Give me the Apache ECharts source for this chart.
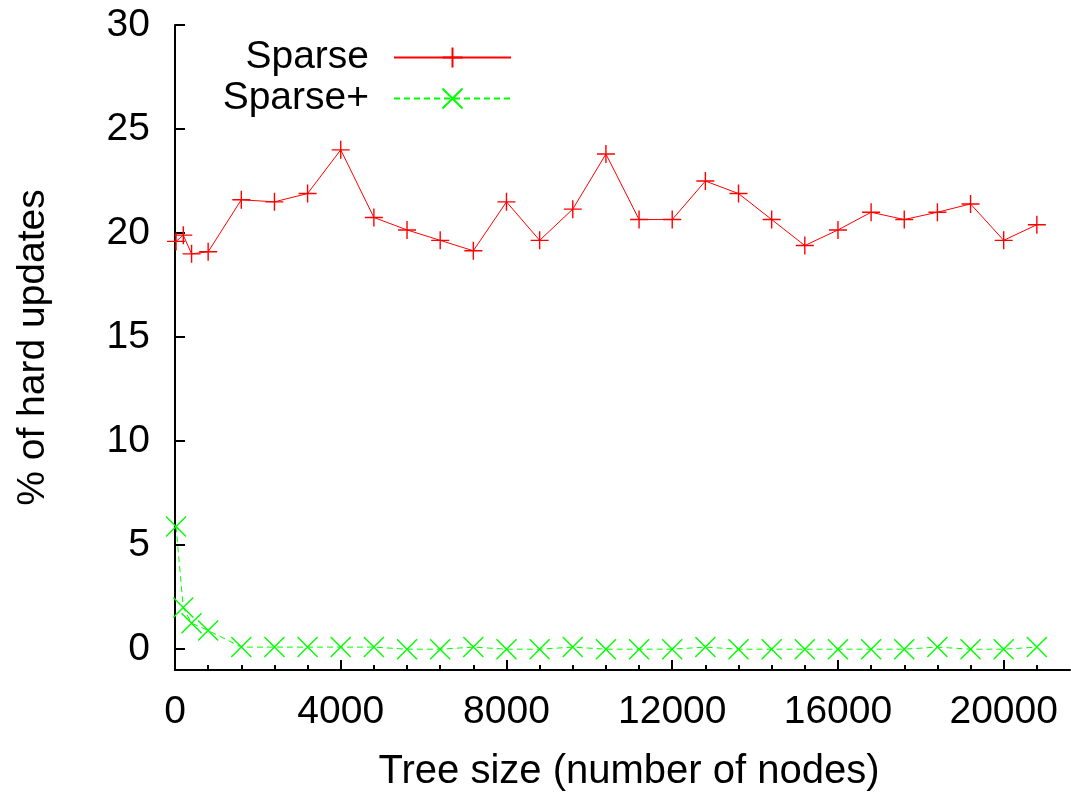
<!DOCTYPE html>
<html>
<head>
<meta charset="utf-8">
<title>Hard updates vs tree size</title>
<script src="https://cdn.jsdelivr.net/npm/echarts@6/dist/echarts.min.js"></script>
<style>
  html, body { margin: 0; padding: 0; background: #fff; }
  #chart { width: 1071px; height: 792px; }
</style>
</head>
<body>
<div id="chart"></div>
<script>
// tree sizes (number of nodes)
var nodes = [25, 200, 400, 800, 1600, 2400, 3200, 4000, 4800, 5600, 6400, 7200, 8000, 8800,
  9600, 10400, 11200, 12000, 12800, 13600, 14400, 15200, 16000, 16800, 17600, 18400, 19200, 20000, 20800];
// % of hard updates
var sparse = [19.6, 19.9, 19.0, 19.1, 21.6, 21.5, 21.9, 24.0, 20.75, 20.15, 19.65, 19.15, 21.5, 19.65,
  21.15, 23.8, 20.65, 20.65, 22.5, 21.9, 20.65, 19.4, 20.15, 21.0, 20.65, 21.0, 21.4, 19.65, 20.4];
var sparsePlus = [5.9, 2.0, 1.25, 0.9, 0.1, 0.1, 0.1, 0.1, 0.1, 0, 0, 0.1, 0, 0,
  0.1, 0, 0, 0, 0.1, 0, 0, 0, 0, 0, 0, 0.1, 0, 0, 0.1];

var yTicks = [0, 5, 10, 15, 20, 25, 30];
var xTicks = [0, 4000, 8000, 12000, 16000, 20000];
var xMinorTicks = [];
for (var t = 800; t <= 20800; t += 800) xMinorTicks.push(t);

var FONT = "'Liberation Sans', Arial, Helvetica, sans-serif";
var PLUS = 'path://M0,10L20,10M10,0L10,20';
var CROSS = 'path://M0,0L20,20M20,0L0,20';

function pairs(xs, ys) {
  return xs.map(function (x, i) { return [x, ys[i]]; });
}
function plain(v) { return String(v); }

var chart = echarts.init(document.getElementById('chart'));
chart.setOption({
  animation: false,
  backgroundColor: '#fff',
  textStyle: { fontFamily: FONT },
  grid: { left: 175, right: 1, top: 25, bottom: 122, containLabel: false, outerBoundsMode: 'none' },
  legend: {
    orient: 'vertical',
    align: 'right',
    right: 554,
    top: 33,
    itemWidth: 117,
    itemHeight: 25,
    itemGap: 2,
    textStyle: { fontFamily: FONT, fontSize: 39, color: '#000', padding: [0, 20, 0, 0] },
    data: ['Sparse', 'Sparse+']
  },
  xAxis: [{
    type: 'value',
    min: 0,
    max: 21600,
    name: 'Tree size (number of nodes)',
    nameLocation: 'middle',
    nameGap: 82,
    nameTextStyle: { fontFamily: FONT, fontSize: 40, color: '#000', padding: [0, 0, 0, 13] },
    splitLine: { show: false },
    axisLine: { onZero: false, lineStyle: { color: '#000', width: 2 } },
    axisTick: { inside: true, length: 10, customValues: xTicks, lineStyle: { color: '#000', width: 2 } },
    axisLabel: { customValues: xTicks, formatter: plain, margin: 23, fontFamily: FONT, fontSize: 39, color: '#000' }
  }, {
    type: 'value',
    min: 0,
    max: 21600,
    position: 'bottom',
    splitLine: { show: false },
    axisLine: { show: false, onZero: false },
    axisTick: { inside: true, length: 5, customValues: xMinorTicks, lineStyle: { color: '#000', width: 2 } },
    axisLabel: { show: false }
  }],
  yAxis: {
    type: 'value',
    min: -1,
    max: 30,
    name: '% of hard updates',
    nameLocation: 'middle',
    nameGap: 122,
    nameTextStyle: { fontFamily: FONT, fontSize: 39, color: '#000' },
    splitLine: { show: false },
    axisLine: { show: true, onZero: false, lineStyle: { color: '#000', width: 2 } },
    axisTick: { show: true, inside: true, length: 10, customValues: yTicks, lineStyle: { color: '#000', width: 2 } },
    axisLabel: { customValues: yTicks, formatter: plain, margin: 25, fontFamily: FONT, fontSize: 39, color: '#000' }
  },
  series: [{
    name: 'Sparse',
    type: 'line',
    data: pairs(nodes, sparse),
    symbol: PLUS,
    symbolSize: 18,
    showAllSymbol: true,
    itemStyle: { color: '#ff0000', borderColor: '#ff0000', borderWidth: 1.4 },
    lineStyle: { color: '#ff0000', width: 1 }
  }, {
    name: 'Sparse+',
    type: 'line',
    data: pairs(nodes, sparsePlus),
    symbol: CROSS,
    symbolSize: 20,
    showAllSymbol: true,
    itemStyle: { color: '#00ff00', borderColor: '#00ff00', borderWidth: 1.4 },
    lineStyle: { color: '#00ff00', width: 1, type: [6, 4] }
  }]
});
</script>
</body>
</html>
